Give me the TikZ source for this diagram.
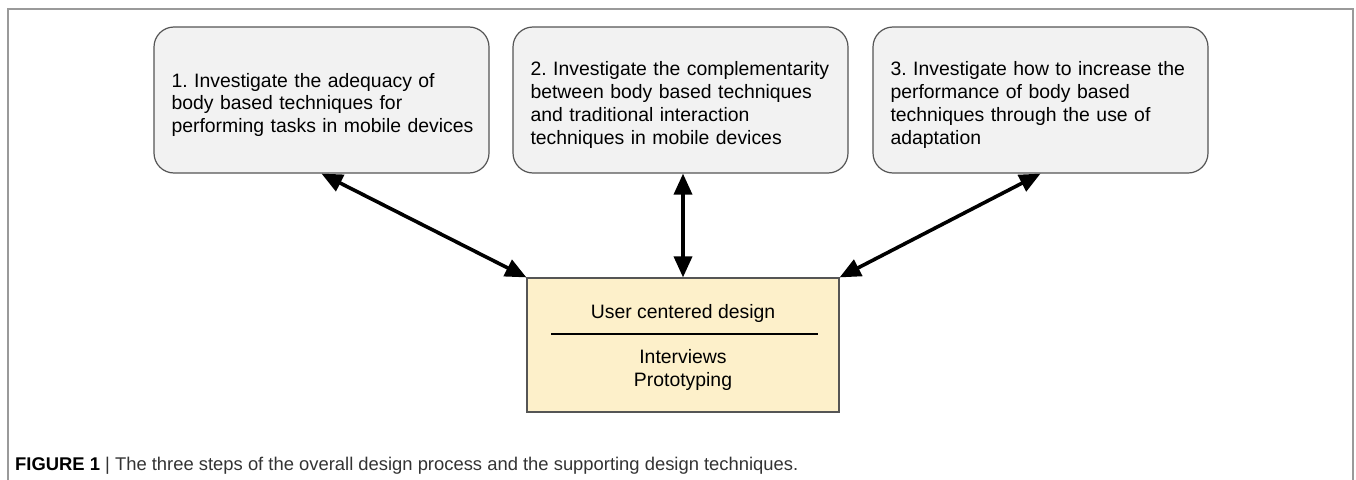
\documentclass[tikz,border=0pt]{standalone}
\usepackage{fontspec}
\setmainfont{Liberation Sans}
\usetikzlibrary{arrows.meta}
\frenchspacing
\definecolor{framegray}{HTML}{9A9A9A}
\definecolor{boxgray}{HTML}{F2F2F2}
\definecolor{boxedge}{HTML}{555555}
\definecolor{ucdfill}{HTML}{FDF0CA}
\definecolor{captext}{HTML}{333333}
\tikzset{
  stepbox/.style={draw=boxedge, line width=1.2pt, fill=boxgray, rounded corners=20pt,
    minimum width=335pt, minimum height=146pt, text width=300pt, inner xsep=17.5pt,
    align=left, font=\fontsize{19.4}{22.7}\selectfont\frenchspacing, anchor=center},
  ucdbox/.style={draw=boxedge, line width=1.2pt, fill=ucdfill, minimum width=312pt,
    minimum height=134pt, inner sep=0pt},
  ucdtext/.style={font=\fontsize{19.4}{22.7}\selectfont, inner sep=0pt, anchor=base},
  dblarrow/.style={line width=3.6pt, {Triangle[length=21pt,width=18pt]}-{Triangle[length=21pt,width=18pt]}},
}
\begin{document}
\begin{tikzpicture}[x=1pt,y=-1pt]
\useasboundingbox (0,0) rectangle (1356,479);
% outer frame
\draw[framegray, line width=2pt] (7.5,480) -- (7.5,9) -- (1353,9) -- (1353,480);
% step boxes
\node[stepbox] (box1) at (321.5,100) {\rule{0pt}{24pt}\mbox{1. Investigate the adequacy of}\\\mbox{body based techniques for}\\\mbox{performing tasks in mobile devices}};
\node[stepbox] (box2) at (680.5,100) {\rule{0pt}{24pt}\mbox{2. Investigate the complementarity}\\\mbox{between body based techniques}\\\mbox{and traditional interaction}\\\mbox{techniques in mobile devices}};
\node[stepbox] (box3) at (1040.5,100) {\rule{0pt}{24pt}\mbox{3. Investigate how to increase the}\\\mbox{performance of body based}\\\mbox{techniques through the use of}\\\mbox{adaptation}};
% user centered design box
\node[ucdbox] (ucd) at (683,345) {};
\node[ucdtext] (ucdtitle) at (683,318) {User centered design};
\coordinate (sepL) at (551,334);
\coordinate (sepR) at (818,334);
\draw[black, line width=1.3pt] (sepL) -- (sepR);
\node[ucdtext] (interviews) at (683,363) {Interviews};
\node[ucdtext] (prototyping) at (683,386) {Prototyping};
% connectors
\draw[dblarrow] (box1.south) -- (ucd.north west);
\draw[dblarrow] (box2.south -| ucd.north) -- (ucd.north);
\draw[dblarrow] (box3.south) -- (ucd.north east);
% caption
\node[anchor=base west, inner sep=0pt, font=\fontsize{18.4}{21}\selectfont] (caption) at (15,470)
  {\textbf{FIGURE 1} {\color{captext}| The three steps of the overall design process and the supporting design techniques.}};
\end{tikzpicture}
\end{document}
